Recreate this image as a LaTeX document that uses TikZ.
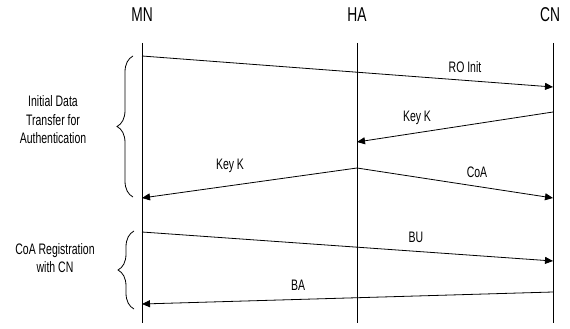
\documentclass[tikz,border=0pt]{standalone}
\usepackage{fontspec}
\setmainfont{Liberation Sans}[FakeStretch=0.69]
\usetikzlibrary{arrows.meta,decorations.pathreplacing}
\begin{document}
\begin{tikzpicture}[x=1pt,y=-1pt,
  lifeline/.style={line width=0.8pt},
  msg/.style={line width=0.8pt,-{Triangle[length=8pt,width=7pt]}},
  hdr/.style={font=\fontsize{20}{22}\selectfont, inner sep=0pt, anchor=base},
  lbl/.style={font=\fontsize{15.2}{17}\selectfont, inner sep=0pt, anchor=base},
  grp/.style={font=\fontsize{15.2}{18.5}\selectfont, align=center, inner sep=0pt},
  brc/.style={decorate, decoration={brace, amplitude=16pt}, line width=0.8pt}]
\useasboundingbox (0,0) rectangle (570,329);

% headers
\node[hdr] (mn) at (142,22) {MN};
\node[hdr] (ha) at (357,22) {HA};
\node[hdr] (cn) at (550,22) {CN};

% lifelines
\coordinate (mnT) at (142,43); \coordinate (mnB) at (142,323);
\coordinate (haT) at (357,43); \coordinate (haB) at (357,323);
\coordinate (cnT) at (553,43); \coordinate (cnB) at (553,323);
\draw[lifeline] (mnT) -- (mnB);
\draw[lifeline] (haT) -- (haB);
\draw[lifeline] (cnT) -- (cnB);

% message endpoints
\coordinate (m1s) at (142,56);  \coordinate (m1e) at (553,87);
\coordinate (m2s) at (553,112); \coordinate (m2e) at (357,142);
\coordinate (m3s) at (357,168); \coordinate (m3e) at (142,198);
\coordinate (m4e) at (553,198);
\coordinate (m5s) at (142,232); \coordinate (m5e) at (553,261);
\coordinate (m6s) at (553,292); \coordinate (m6e) at (142,304);

\draw[msg] (m1s) -- (m1e);
\draw[msg] (m2s) -- (m2e);
\draw[msg] (m3s) -- (m3e);
\draw[msg] (m3s) -- (m4e);
\draw[msg] (m5s) -- (m5e);
\draw[msg] (m6s) -- (m6e);

% labels
\node[lbl] (l1) at (465,72) {RO Init};
\node[lbl] (l2) at (417,121) {Key K};
\node[lbl] (l3) at (230,169) {Key K};
\node[lbl] (l4) at (477,177) {CoA};
\node[lbl] (l5) at (416,242) {BU};
\node[lbl] (l6) at (298,290) {BA};

% braces
\coordinate (b1b) at (133,197); \coordinate (b1t) at (133,56);
\coordinate (b2b) at (134,309); \coordinate (b2t) at (134,231);
\draw[brc] (b1b) -- (b1t);
\draw[brc] (b2b) -- (b2t);

\node[grp] (g1) at (53,120) {Initial Data\\Transfer for\\Authentication};
\node[grp] (g2) at (55,258) {CoA Registration\\with CN};
\end{tikzpicture}
\end{document}
